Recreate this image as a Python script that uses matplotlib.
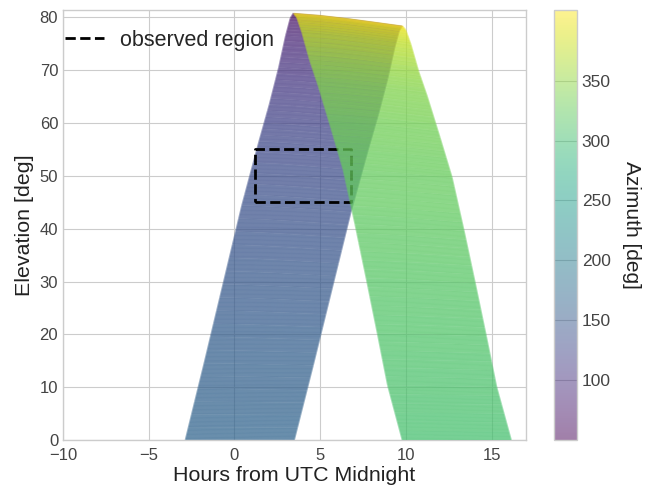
import numpy as np
import matplotlib
matplotlib.use("Agg")
import matplotlib.pyplot as plt
from matplotlib.collections import LineCollection

# shape of a single pass, relative to its culmination
rise_hours = [-6.3, -5.2, -4.1, -3.0, -2.0, -1.4, -0.85, -0.45, -0.18, 0.0]
rise_frac = [0.0, 0.18, 0.365, 0.55, 0.70, 0.786, 0.873, 0.947, 0.988, 1.0]
rise_azimuth = [166, 159, 150, 140, 128, 116, 102, 86, 68, 50]

set_hours = [0.0, 0.2, 0.5, 0.95, 1.45, 2.2, 2.9, 3.6, 4.25, 4.9, 5.5, 6.35]
set_frac = [1.0, 0.99, 0.955, 0.89, 0.83, 0.73, 0.634, 0.505, 0.379, 0.25, 0.128, 0.0]
set_azimuth = [409, 394, 373, 352, 340, 331, 325, 320, 315, 311, 307, 303]

# culmination time / elevation drifting from first to last pass
peak_hours = [3.45, 5.0, 6.6, 8.2, 9.77]
peak_elev = [80.8, 80.4, 79.8, 79.1, 78.4]
n_passes = 110

box_hours = (1.2, 6.8)
box_elev = (45, 55)


def pass_segments(hours, frac, azimuth, t_peak, e_peak, sub=6):
    """line segments of one pass, each straight piece split so the colour
    changes gradually along it"""
    x = t_peak + np.asarray(hours, dtype=float)
    y = e_peak * np.asarray(frac, dtype=float)
    az = np.asarray(azimuth, dtype=float)
    w = np.linspace(0, 1, sub + 1)
    xs, ys, azs = [x[0]], [y[0]], [az[0]]
    for i in range(len(x) - 1):
        xs.extend(x[i] + (x[i + 1] - x[i]) * w[1:])
        ys.extend(y[i] + (y[i + 1] - y[i]) * w[1:])
        azs.extend(az[i] + (az[i + 1] - az[i]) * w[1:])
    pts = np.column_stack([xs, ys])
    azs = np.asarray(azs)
    segs = np.stack([pts[:-1], pts[1:]], axis=1)
    return segs, 0.5 * (azs[:-1] + azs[1:])


def build(hours, frac, azimuth):
    t_all = np.linspace(peak_hours[0], peak_hours[-1], n_passes)
    e_all = np.interp(t_all, peak_hours, peak_elev)
    segs, vals = [], []
    for t, e in zip(t_all, e_all):
        s, v = pass_segments(hours, frac, azimuth, t, e)
        segs.append(s)
        vals.append(v)
    return np.concatenate(segs), np.concatenate(vals)


plt.style.use('seaborn-v0_8-whitegrid')
fig = plt.figure(figsize=(6.47, 4.91), dpi=100)
ax = fig.add_axes([0.0974, 0.1039, 0.7156, 0.8757])
cax = fig.add_axes([0.856, 0.1039, 0.0355, 0.8757])

az_min = min(rise_azimuth + set_azimuth)
az_max = max(rise_azimuth + set_azimuth)

segs, vals = build(rise_hours, rise_frac, rise_azimuth)
lc_rise = LineCollection(segs, cmap='viridis', alpha=0.5, linewidths=1.4,
                         capstyle='butt', zorder=2)
lc_rise.set_array(vals)
lc_rise.set_clim(az_min, az_max)
ax.add_collection(lc_rise)

x0, x1 = box_hours
y0, y1 = box_elev
ax.plot([x0, x1, x1, x0, x0], [y0, y0, y1, y1, y0], 'k--', lw=2,
        label='observed region', zorder=3)

segs, vals = build(set_hours, set_frac, set_azimuth)
lc_set = LineCollection(segs, cmap='viridis', alpha=0.5, linewidths=1.4,
                        capstyle='butt', zorder=4)
lc_set.set_array(vals)
lc_set.set_clim(az_min, az_max)
ax.add_collection(lc_set)

ax.set_xlim(-10, 17)
ax.set_ylim(0, 81.4)
ax.set_xticks([-10, -5, 0, 5, 10, 15])
ax.set_yticks(range(0, 81, 10))
ax.tick_params(labelsize=12, colors='#444444')
ax.tick_params(axis='x', pad=6)
ax.set_xlabel('Hours from UTC Midnight', fontsize=15.4, color='#222222', labelpad=2)
ax.set_ylabel('Elevation [deg]', fontsize=15.4, color='#222222')
ax.legend(loc='center left', bbox_to_anchor=(0.0, 0.93), fontsize=15.5,
          frameon=False, borderaxespad=0.1, borderpad=0.0,
          handlelength=1.8, handletextpad=0.75)

cb = fig.colorbar(lc_set, cax=cax)
cb.set_ticks([100, 150, 200, 250, 300, 350])
cb.ax.tick_params(labelsize=12.5, colors='#444444')
cb.set_label('Azimuth [deg]', rotation=270, fontsize=15, labelpad=22, color='#222222')
cb.outline.set_edgecolor('#cccccc')

fig.savefig('out.png', dpi=100)
